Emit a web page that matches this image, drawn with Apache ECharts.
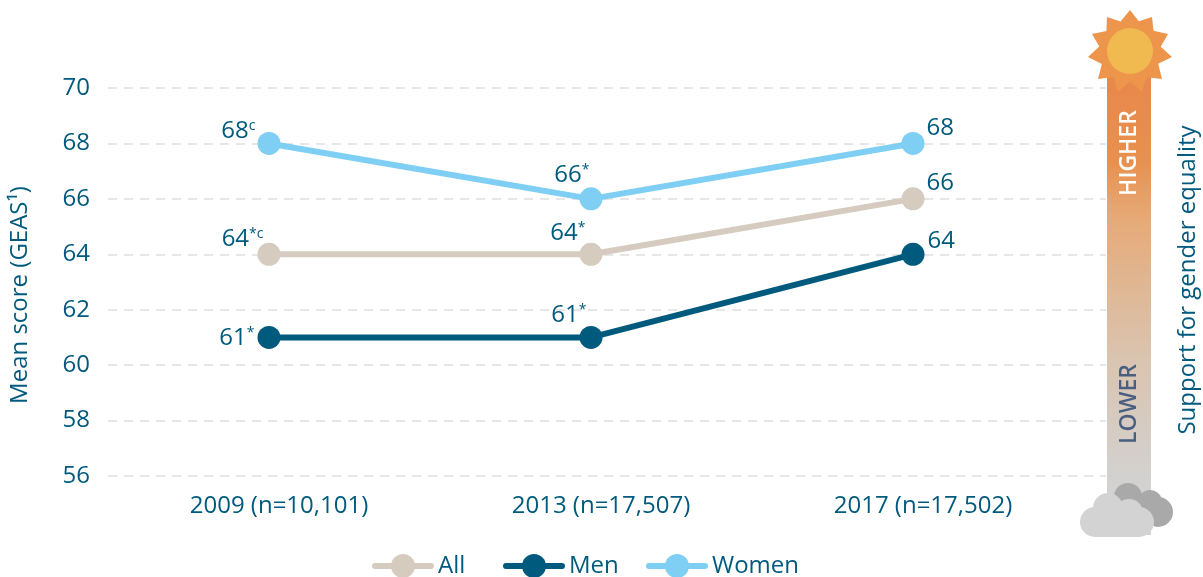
<!DOCTYPE html>
<html><head><meta charset="utf-8">
<style>html,body{margin:0;padding:0;background:#fff;overflow:hidden}#c{width:1203px;height:577px}</style>
<script src="https://cdn.jsdelivr.net/npm/echarts@6/dist/echarts.min.js"></script>
</head><body><div id="c"></div>
<script>
const categories = ['2009 (n=10,101)', '2013 (n=17,507)', '2017 (n=17,502)'];
const allValues = [64, 64, 66];
const menValues = [61, 61, 64];
const womenValues = [68, 66, 68];
const allNotes = ['*c', '*', ''];
const menNotes = ['*', '*', ''];
const womenNotes = ['c', '*', ''];
const allOffsets = [[11, -15], [11, -21], [-3, -16]];
const menOffsets = [[2, 1], [12, -22], [-2, -13]];
const womenOffsets = [[3, -12], [15, -24], [-3, -15]];
const legendNames = ['All', 'Men', 'Women'];
const legendLefts = [372, 503, 646];
const teal = '#005A7D';
const font = '"Open Sans"';
const chart = echarts.init(document.getElementById('c'));

function makeSeries(name, values, notes, offsets, color, z) {
  return {
    name, type: 'line', xAxisIndex: 1, yAxisIndex: 1, z,
    data: values.map((v, i) => ({
      value: v,
      label: {
        position: i === 2 ? 'right' : 'left',
        offset: offsets[i],
        formatter: notes[i] ? `{n|${v}}{s|${notes[i]}}` : `{n|${v}}`
      }
    })),
    symbol: 'circle', symbolSize: 23,
    lineStyle: { color, width: 6, cap: 'round' },
    itemStyle: { color },
    label: {
      show: true, color: teal, fontFamily: font, fontSize: 24,
      rich: {
        n: { color: teal, fontFamily: font, fontSize: 24 },
        s: { color: teal, fontFamily: font, fontSize: 14, verticalAlign: 'top', padding: [0, 0, 8, 0] }
      }
    },
    emphasis: { disabled: true }
  };
}

const sunPts = [];
const tips = [[1130,10],[1152,17],[1168,34],[1172,57],[1162,79],[1142,92],[1118,92],[1098,79],[1088,57],[1092,34],[1107,17]];
tips.forEach((t, i) => {
  sunPts.push(t);
  const a = Math.atan2(t[1]-51, t[0]-1130), b = a + Math.PI / 11;
  sunPts.push([1130 + 31 * Math.cos(b), 51 + 31 * Math.sin(b)]);
});
const circ = (cx, cy, r, fill) => ({ type: 'circle', silent: true, shape: { cx, cy, r }, style: { fill } });

chart.setOption({
  animation: false,
  backgroundColor: '#fff',
  textStyle: { fontFamily: font },
  grid: [
    { left: 108, top: 88, width: 998, height: 388 },
    { left: 108, top: 88, width: 966, height: 388 }
  ],
  legend: legendNames.map((name, i) => ({
    data: [name],
    left: legendLefts[i], top: 554, padding: 0, itemWidth: 56, itemHeight: 30,
    lineStyle: { width: 6, cap: 'round' },
    textStyle: { color: teal, fontFamily: font, fontSize: 24, padding: [0, 0, 0, 2] }
  })),
  xAxis: [
    { gridIndex: 0, type: 'value', min: 0, max: 1, show: false },
    { gridIndex: 1, type: 'category', data: categories,
      axisLine: { show: false }, axisTick: { show: false }, splitLine: { show: false },
      axisLabel: { color: teal, fontFamily: font, fontSize: 24, margin: 18, padding: [0, 0, 0, 20] } }
  ],
  yAxis: [
    { gridIndex: 0, type: 'value', min: 56, max: 70, interval: 2,
      axisLine: { show: false }, axisTick: { show: false },
      axisLabel: { color: teal, fontFamily: font, fontSize: 24, margin: 18 },
      splitLine: { show: true, lineStyle: { color: '#DEDEDE', width: 1.5, type: [9, 7] } } },
    { gridIndex: 1, type: 'value', min: 56, max: 70, interval: 2, show: false }
  ],
  series: [
    makeSeries('All', allValues, allNotes, allOffsets, '#D5CBBF', 3),
    makeSeries('Men', menValues, menNotes, menOffsets, '#005A7D', 4),
    makeSeries('Women', womenValues, womenNotes, womenOffsets, '#7FCEF4', 5)
  ],
  graphic: [
    { type: 'rect', silent: true, shape: { x: 1107, y: 70, width: 44, height: 465 },
      style: { fill: new echarts.graphic.LinearGradient(0, 0, 0, 1, [
        { offset: 0, color: '#E8874A' }, { offset: 0.2, color: '#E8914F' },
        { offset: 0.32, color: '#E6AA78' }, { offset: 0.62, color: '#D9C4B0' },
        { offset: 0.9, color: '#D2D2D2' }, { offset: 1, color: '#D2D2D2' }]) } },
    { type: 'polygon', silent: true, shape: { points: sunPts }, style: { fill: '#EC954B' } },
    circ(1130, 51, 23, '#F1BA50'),
    circ(1128, 497, 14, '#A9A9A9'), circ(1150, 502, 12, '#A9A9A9'), circ(1158, 512, 15, '#A9A9A9'),
    circ(1108, 508, 15, '#D3D3D3'), circ(1129, 513, 14, '#D3D3D3'),
    { type: 'rect', silent: true, shape: { x: 1080, y: 507, width: 74, height: 30, r: 15 }, style: { fill: '#D3D3D3' } },
    { type: 'text', silent: true, x: 1129, y: 153, rotation: Math.PI / 2,
      style: { text: 'HIGHER', fill: '#fff', font: '600 23px "Open Sans"', align: 'center', verticalAlign: 'middle' } },
    { type: 'text', silent: true, x: 1129, y: 404, rotation: Math.PI / 2,
      style: { text: 'LOWER', fill: '#4A5F80', font: '600 23px "Open Sans"', align: 'center', verticalAlign: 'middle' } },
    { type: 'text', silent: true, x: 1188, y: 280, rotation: Math.PI / 2,
      style: { text: 'Support for gender equality', fill: teal, font: '24px "Open Sans"', align: 'center', verticalAlign: 'middle' } },
    { type: 'text', silent: true, x: 20, y: 295, rotation: Math.PI / 2,
      style: { text: 'Mean score (GEAS\u00B9)', fill: teal, font: '24px "Open Sans"', align: 'center', verticalAlign: 'middle' } }
  ]
});
</script></body></html>
